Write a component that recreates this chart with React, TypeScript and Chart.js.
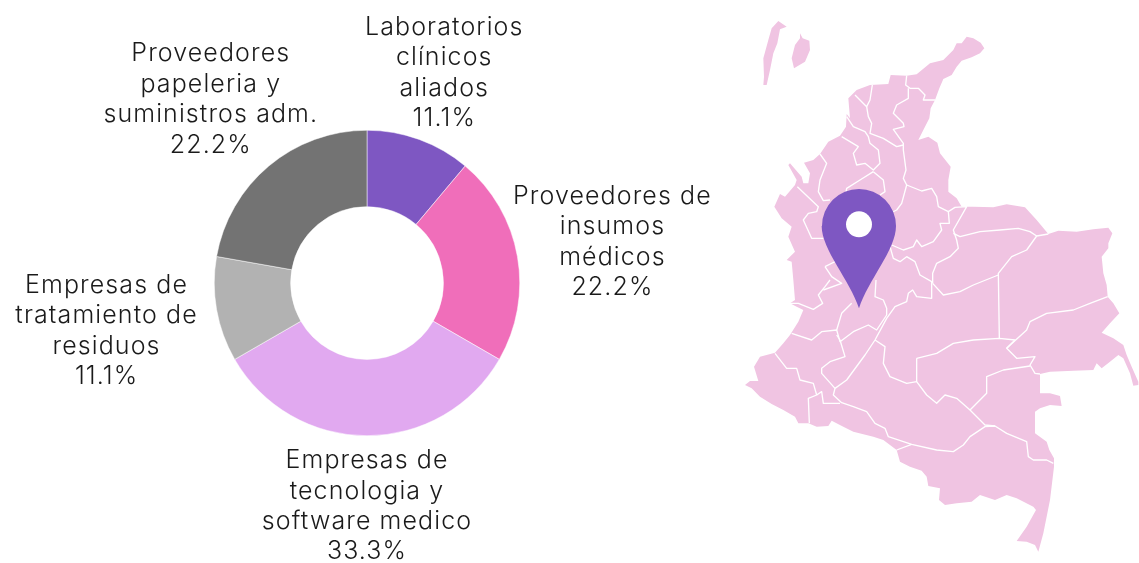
import React, { useEffect, useRef } from "react";
import { Chart, registerables } from "chart.js";

Chart.register(...registerables);

const categories = [
  ["Laboratorios", "clínicos", "aliados"],
  ["Proveedores de", "insumos", "médicos"],
  ["Empresas de", "tecnologia y", "software medico"],
  ["Empresas de", "tratamiento de", "residuos"],
  ["Proveedores", "papeleria y", "suministros adm."],
];
const counts = [1, 2, 3, 1, 2];
const sliceColors = ["#7E57C2", "#F06EBA", "#E1A9F0", "#B2B2B2", "#737373"];
const labelShiftX = [25, 95, 0, -110, -58];
const labelShiftY = [-66.5, -14.5, 70.5, 21.5, -66.5];

// Decorative map of Colombia, traced in a 3x grid whose origin is page (740,10)
const mapLand: number[][] = [
  [680,80,700,85,722,98,733,115,720,130,695,142,665,152,650,170,635,195,610,207,598,235,585,270,572,295,568,325,550,360,535,390,565,380,592,398,600,430,632,470,625,510,625,545,650,565,665,590,700,590,760,592,800,583,855,592,890,630,925,672,955,662,1010,665,1060,658,1105,653,1117,670,1105,700,1105,715,1085,740,1090,790,1100,825,1103,860,1120,880,1138,910,1110,940,1085,968,1120,985,1150,1005,1160,1035,1175,1070,1195,1115,1195,1125,1180,1127,1170,1090,1150,1045,1135,1035,1110,1055,1085,1075,1070,1060,1060,1080,1000,1082,930,1085,900,1092,900,1150,930,1150,960,1158,965,1188,930,1185,900,1195,885,1205,885,1270,920,1295,928,1320,942,1345,942,1370,930,1470,910,1570,895,1625,885,1605,860,1595,830,1593,860,1550,888,1500,880,1490,830,1465,800,1455,765,1470,720,1455,695,1475,650,1480,615,1485,597,1470,600,1435,565,1428,560,1400,545,1382,510,1370,480,1355,470,1320,430,1290,400,1280,340,1265,310,1250,275,1232,265,1248,230,1250,205,1240,175,1240,165,1220,130,1200,95,1182,60,1160,35,1135,15,1125,30,1113,55,1113,42,1070,60,1040,105,1028,130,1000,150,975,175,935,190,900,170,890,150,880,165,870,160,810,155,755,140,750,165,725,145,680,155,650,125,625,103,590,120,552,135,560,165,525,170,510,145,465,150,460,185,500,190,520,205,520,210,490,192,458,220,450,240,432,265,395,300,377,318,350,320,312,330,325,325,265,350,240,390,225,445,222,452,195,500,197,530,193,570,160,610,150,640,120,650,100,665,100],
  [115,33,140,50,120,58,112,100,100,130,90,180,80,225,70,225,72,200,70,145,85,90,95,55],
  [180,70,188,85,208,92,210,120,195,155,162,175,155,145,165,105,180,85],
];
const mapBorders: number[][] = [
  [500,197,497,225,510,235,535,235,555,255,550,270,585,270],
  [505,235,505,265,470,285,460,310,490,340,492,350,460,358,490,400,490,420,498,480,490,505,500,525,485,580,470,600,440,615],
  [397,225,390,270,380,290,345,255],
  [380,290,385,320,395,340,390,370,430,385,470,410,490,405],
  [320,320,340,350,375,365,385,380,390,400,415,420,420,460,400,480,375,460,350,465,340,430,355,410,305,380],
  [400,485,430,510,435,545,420,555],
  [400,485,360,510,320,535,315,560],
  [240,432,260,460,240,510,235,545,250,572,270,570],
  [172,530,235,590,230,605,205,610,190,630,215,685,250,685],
  [500,525,545,543,575,535,590,560,595,590,625,605,645,592,680,590,640,660,650,690,655,715,630,740,590,760,578,790,578,820],
  [625,605,628,640,600,640,605,660,580,695,545,710,530,690,520,710,490,720,455,705],
  [640,670,660,680,720,665,780,660,835,655,870,665,890,678,925,672],
  [890,678,860,720,815,740,775,790,778,985],
  [578,820,610,855,660,845,700,825,775,795],
  [450,710,460,745,480,755,500,740,525,755,540,795,575,815,575,865,530,860,518,840,505,850,500,875,465,890,440,925,405,990,375,1035,320,1110,285,1135,280,1155,305,1178,340,1190,380,1205,405,1240,435,1255,445,1280,515,1303,590,1320,640,1325,670,1305,690,1280,735,1250,765,1248,800,1270,860,1295,865,1340,880,1350,920,1350,940,1360],
  [515,1303,470,1320],
  [405,990,435,1010,430,1060,450,1100,500,1120,530,1115],
  [530,1045,530,1115,560,1155,590,1180,615,1155,650,1165,690,1200,735,1245,765,1248],
  [530,1045,590,1030,640,1000,700,990,778,985,825,990,800,1015,830,1045,885,1040,870,1065,885,1090,900,1092],
  [800,1015,860,960,870,935,920,910,1000,900,1050,880,1103,860],
  [870,1068,790,1080,740,1100,740,1150,690,1200],
  [408,810,405,860,430,870,440,895,440,915,410,960,385,945,340,965,300,995,290,960,245,965,215,990,155,970],
  [335,880,305,910,290,960],
  [290,975,300,990,315,1040,270,1055,245,1075,245,1090,285,1135],
  [105,1030,140,1075,170,1075,180,1110,220,1120,230,1155,205,1165,208,1240],
  [230,1155,245,1145,250,1180,300,1180],
  [150,880,175,880,220,898,248,880,235,855,255,830,270,810],
  [255,770,275,800,305,820,250,840],
  [255,770,295,750],
];

const FONT = '300 25px Inter, "Open Sans", sans-serif';

const mapPlugin = {
  id: "colombiaMap",
  beforeDraw(chart: any) {
    const ctx = chart.ctx;
    ctx.save();
    ctx.translate(740, 10);
    ctx.scale(1 / 3, 1 / 3);
    ctx.fillStyle = "#F0C4E2";
    for (const poly of mapLand) {
      ctx.beginPath();
      for (let i = 0; i < poly.length; i += 2) {
        if (i === 0) ctx.moveTo(poly[i], poly[i + 1]);
        else ctx.lineTo(poly[i], poly[i + 1]);
      }
      ctx.closePath();
      ctx.fill();
    }
    ctx.strokeStyle = "#FFFFFF";
    ctx.lineWidth = 4;
    ctx.lineJoin = "round";
    for (const line of mapBorders) {
      ctx.beginPath();
      for (let i = 0; i < line.length; i += 2) {
        if (i === 0) ctx.moveTo(line[i], line[i + 1]);
        else ctx.lineTo(line[i], line[i + 1]);
      }
      ctx.stroke();
    }
    // location pin
    ctx.fillStyle = "#7E57C2";
    ctx.beginPath();
    ctx.moveTo(357, 895);
    ctx.bezierCurveTo(330, 810, 245, 720, 245, 648);
    ctx.arc(357, 648, 111, Math.PI, 0);
    ctx.bezierCurveTo(468, 720, 384, 810, 357, 895);
    ctx.closePath();
    ctx.fill();
    ctx.fillStyle = "#FFFFFF";
    ctx.beginPath();
    ctx.arc(357, 643, 39, 0, Math.PI * 2);
    ctx.fill();
    ctx.restore();
  },
};

const labelPlugin = {
  id: "sliceLabels",
  afterDraw(chart: any) {
    const ctx = chart.ctx;
    const total = counts.reduce((a, b) => a + b, 0);
    ctx.save();
    ctx.font = FONT;
    ctx.fillStyle = "#1A1A1A";
    ctx.textAlign = "center";
    ctx.textBaseline = "middle";
    (ctx as any).letterSpacing = "1.1px";
    chart.getDatasetMeta(0).data.forEach((arc: any, i: number) => {
      const mid = (arc.startAngle + arc.endAngle) / 2;
      const px = arc.x + Math.cos(mid) * arc.outerRadius + labelShiftX[i];
      const py = arc.y + Math.sin(mid) * arc.outerRadius + labelShiftY[i];
      const lines = [...categories[i], ((counts[i] / total) * 100).toFixed(1) + "%"];
      lines.forEach((t, k) => {
        ctx.fillText(t, px, py + (k - (lines.length - 1) / 2) * 30.4);
      });
    });
    ctx.restore();
  },
};

export default function App() {
  const ref = useRef<HTMLCanvasElement>(null);
  useEffect(() => {
    const chart = new Chart(ref.current!, {
      type: "doughnut",
      data: {
        labels: categories.map((c) => c.join(" ")),
        datasets: [
          {
            data: counts,
            backgroundColor: sliceColors,
            borderColor: "#FFFFFF",
            borderWidth: 0.5,
          },
        ],
      },
      options: {
        responsive: false,
        animation: false,
        cutout: "50%",
        layout: { padding: { left: 214, right: 619, top: 130, bottom: 127 } },
        plugins: { legend: { display: false }, tooltip: { enabled: false } },
      },
      plugins: [mapPlugin, labelPlugin],
    } as any);
    return () => chart.destroy();
  }, []);
  return (
    <div style={{ position: "absolute", left: 0, top: 0, width: 1139, height: 563, background: "#fff" }}>
      <canvas ref={ref} width={1139} height={563} style={{ display: "block" }} />
    </div>
  );
}
